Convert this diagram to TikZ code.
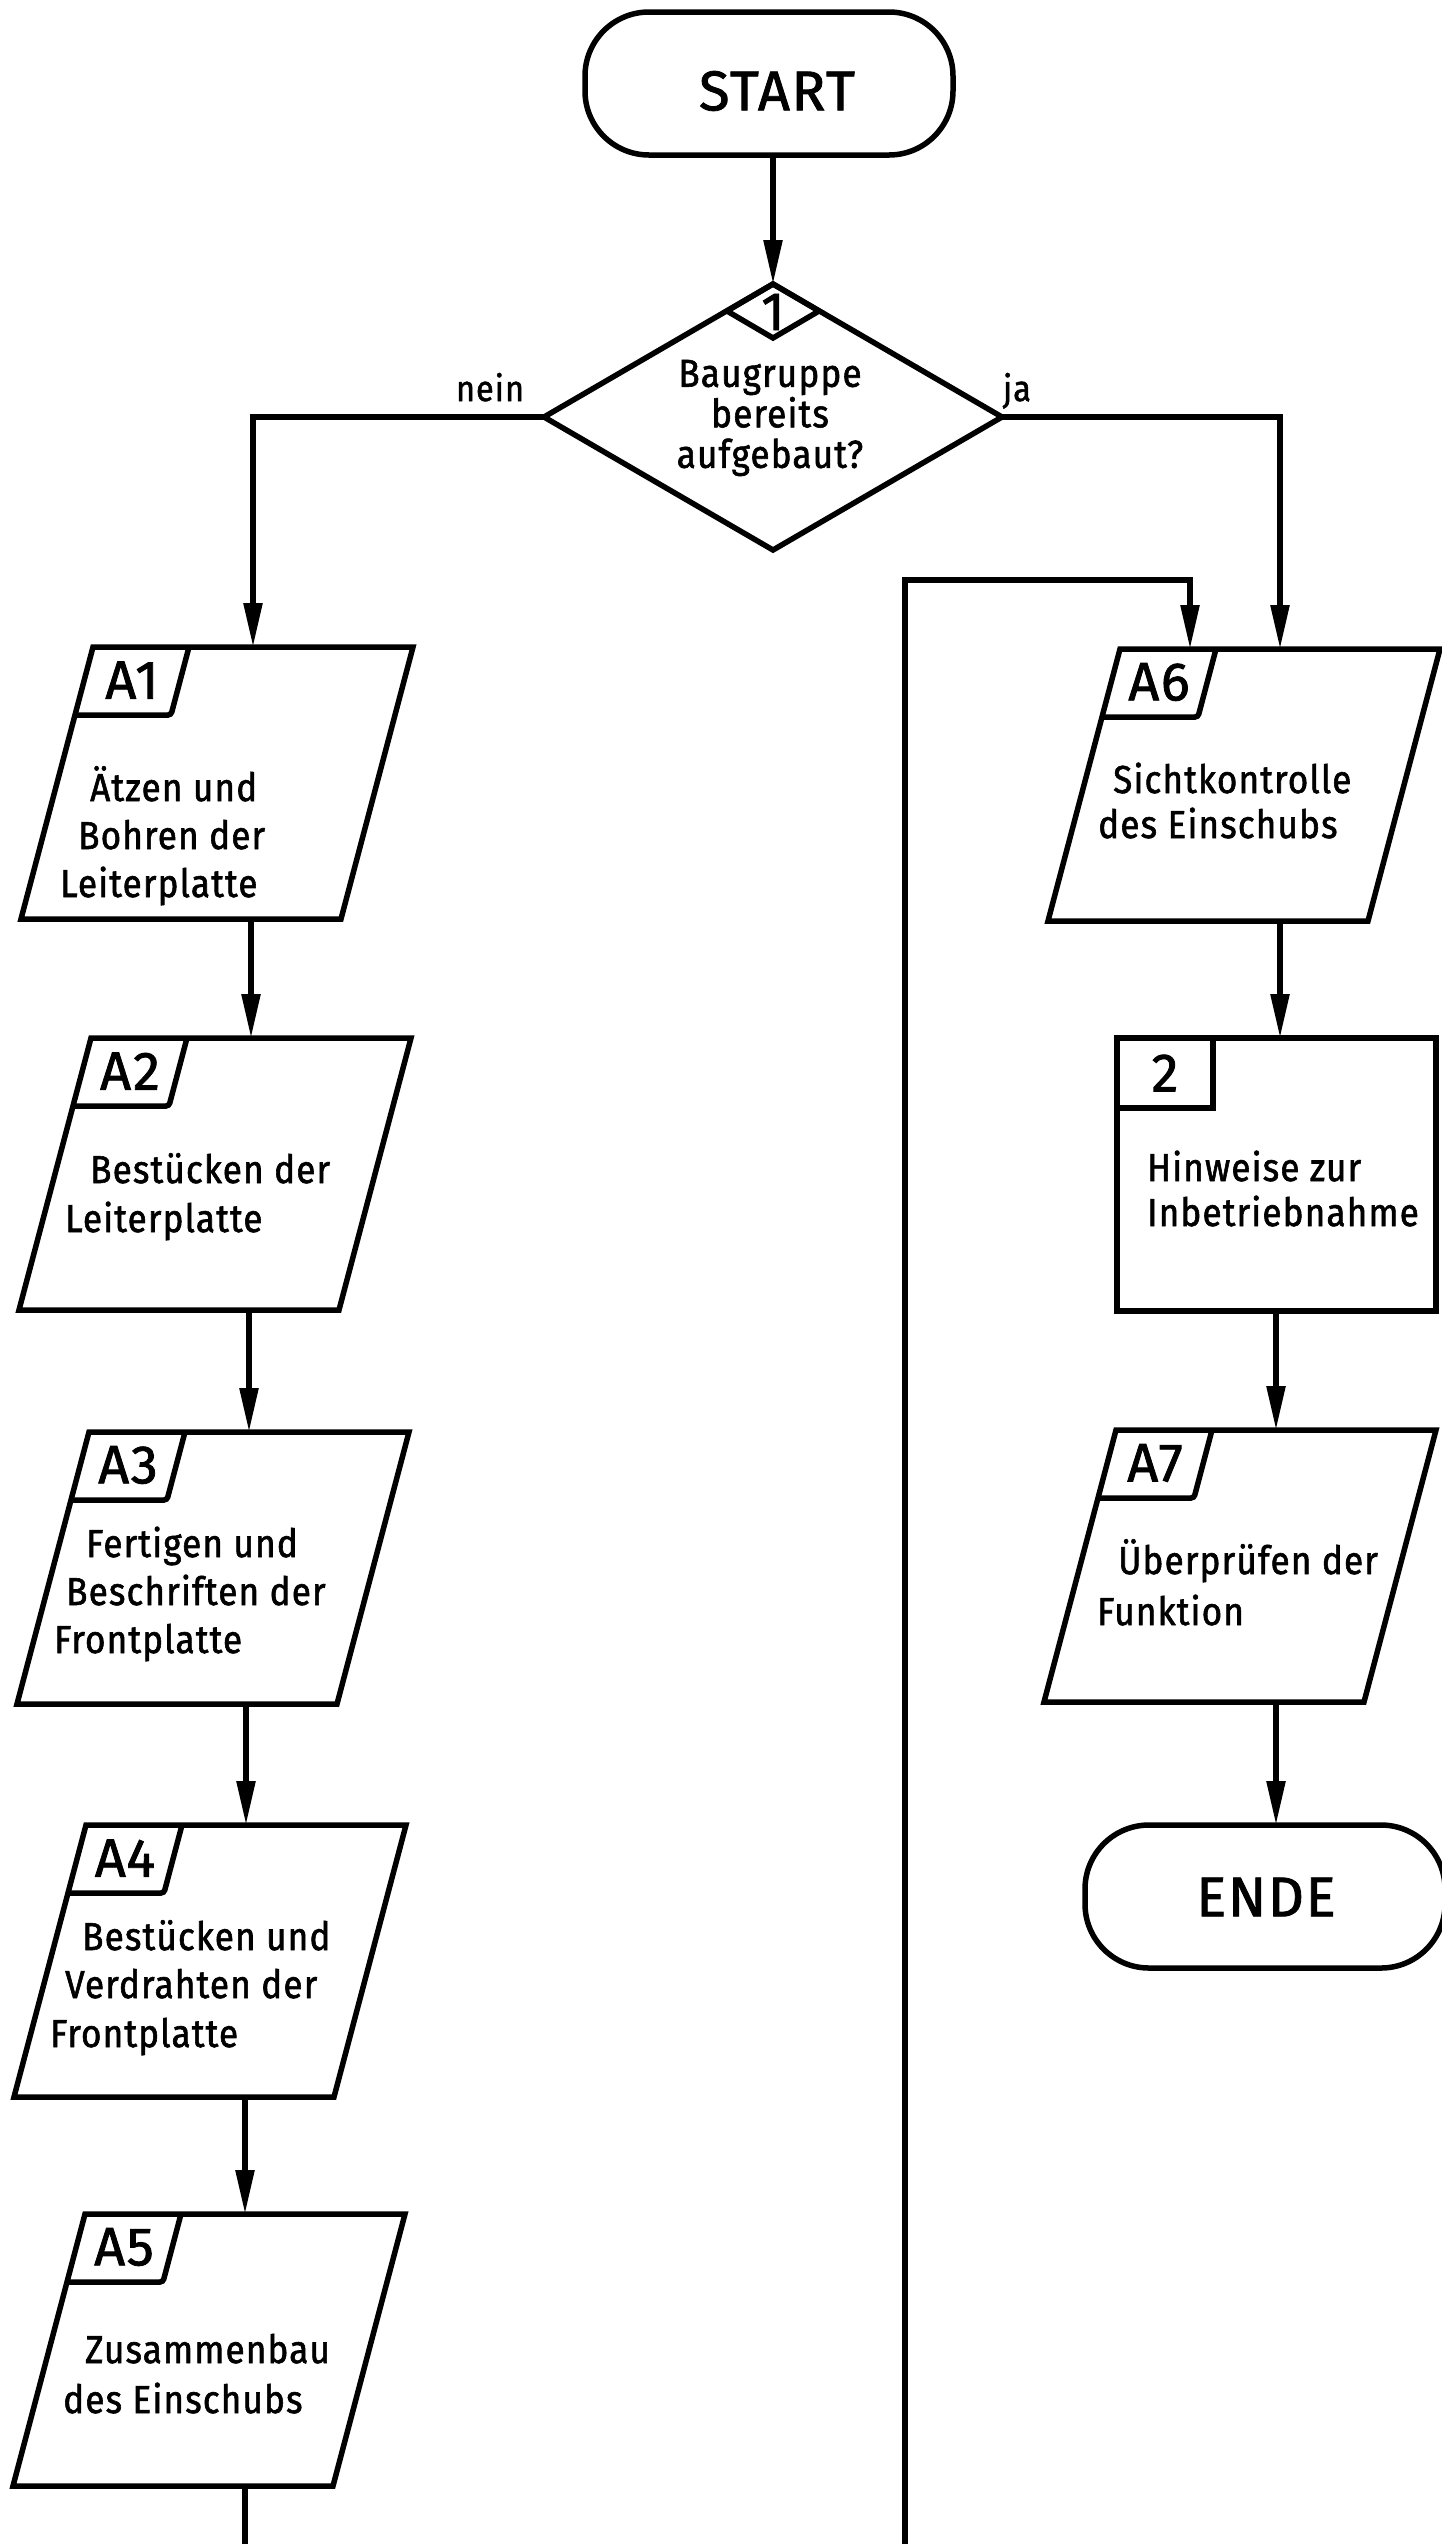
\documentclass[tikz,border=0pt]{standalone}
\usepackage{fontspec}
\setmainfont{Fira Sans}[LetterSpace=3,FakeBold=1.5,FakeStretch=0.9]
\newfontfamily\labfam{Fira Sans}[LetterSpace=3,FakeBold=1.5]
\usetikzlibrary{arrows.meta}
\newcommand\fBody{\fontsize{39}{47}\selectfont}
\newcommand\fDia{\fontsize{39}{40.5}\selectfont}
\newcommand\fBig{\labfam\fontsize{56}{60}\selectfont}
\newcommand\fLab{\labfam\fontsize{54}{58}\selectfont}
\newcommand\fSmall{\fontsize{36}{40}\selectfont}
\newcommand\paraBox[2]{%
  \draw[ln] (#1.north west) -- (#1.north east) -- ([xshift=-72pt]#1.south east) -- ([xshift=-72pt]#1.south west) -- cycle;
  \draw[ln, rounded corners=3pt] ([xshift=96pt]#1.north west) -- ([xshift=78pt,yshift=-68pt]#1.north west) -- ([xshift=-18pt,yshift=-68pt]#1.north west);
  \node[labtext] (#1-lab) at ([xshift=39pt,yshift=-33pt]#1.north west) {#2};
}
\begin{document}
\begin{tikzpicture}[x=1pt,y=-1pt,
  ln/.style={line width=5.5pt},
  arr/.style={line width=5.5pt,-{Triangle[length=44pt,width=18pt]}},
  pbox/.style={minimum width=320pt,minimum height=272pt,inner sep=0pt,outer sep=0pt},
  anchorbox/.style={inner sep=0pt,outer sep=0pt},
  term/.style={draw,line width=5.5pt,rounded corners=64pt,inner sep=0pt,outer sep=0pt},
  labtext/.style={inner sep=0pt,font=\fLab},
  tl/.style={inner sep=0pt,anchor=base west,font=\fBody}]
\useasboundingbox (0,0) rectangle (1442,2544);

% start
\node[term,minimum width=368pt,minimum height=143pt] (START) at (769,83.5) {};
\node[inner sep=0pt,font=\fBig] (STARTt) at (777,91) {START};

% decision
\node[anchorbox,minimum width=458pt,minimum height=266pt] (D) at (773,417) {};
\draw[ln] (D.north) -- (D.east) -- (D.south) -- (D.west) -- cycle;
\draw[ln] (D.north) -- ++(46,27) -- ++(-46,27) -- ++(-46,-27) -- cycle;
\node[labtext] (D-lab) at ([yshift=-28pt]D.north) {1};
\node[inner sep=0pt,align=center,font=\fDia] (Dt) at (770,418) {Baugruppe\\bereits\\aufgebaut?};
\node[inner sep=0pt,anchor=base,font=\fSmall] (nein) at (490,401) {nein};
\node[inner sep=0pt,anchor=base,font=\fSmall] (ja) at (1017,401) {ja};

% left column
\node[pbox] (A1) at (253,783) {};
\paraBox{A1}{A1}
\node[tl] (t1a) at (90,801) {Ätzen und};
\node[tl] (t1b) at (78,849) {Bohren der};
\node[tl] (t1c) at (60,897) {Leiterplatte};
\node[pbox] (A2) at (251,1174) {};
\paraBox{A2}{A2}
\node[tl] (t2a) at (90,1183) {Bestücken der};
\node[tl] (t2b) at (65,1232) {Leiterplatte};
\node[pbox] (A3) at (249,1568) {};
\paraBox{A3}{A3}
\node[tl] (t3a) at (86,1557) {Fertigen und};
\node[tl] (t3b) at (66,1605) {Beschriften der};
\node[tl] (t3c) at (54,1653) {Frontplatte};
\node[pbox] (A4) at (246,1961) {};
\paraBox{A4}{A4}
\node[tl] (t4a) at (82,1950) {Bestücken und};
\node[tl] (t4b) at (65,1998) {Verdrahten der};
\node[tl] (t4c) at (50,2047) {Frontplatte};
\node[pbox] (A5) at (245,2350) {};
\paraBox{A5}{A5}
\node[tl] (t5a) at (85,2363) {Zusammenbau};
\node[tl] (t5b) at (63,2413) {des Einschubs};

% right column
\node[pbox] (A6) at (1280,785) {};
\paraBox{A6}{A6}
\node[tl] (t6a) at (1113,793) {Sichtkontrolle};
\node[tl] (t6b) at (1098,838) {des Einschubs};
\node[draw,line width=5.5pt,minimum width=319pt,minimum height=273pt,inner sep=0pt,outer sep=0pt] (B2) at (1276.5,1174.5) {};
\draw[ln] ([xshift=96pt]B2.north west) |- ([yshift=-70pt]B2.north west);
\node[labtext] (B2-lab) at ([xshift=48pt,yshift=-35pt]B2.north west) {2};
\node[tl] (tB2a) at (1147,1181) {Hinweise zur};
\node[tl] (tB2b) at (1147,1226) {Inbetriebnahme};
\node[pbox] (A7) at (1276,1566) {};
\paraBox{A7}{A7}
\node[tl] (t7a) at (1118,1574) {Überprüfen der};
\node[tl] (t7b) at (1097,1625) {Funktion};
\node[term,minimum width=360pt,minimum height=143pt] (ENDE) at (1265,1896.5) {};
\node[inner sep=0pt,font=\fBig] (ENDEt) at (1266,1897) {ENDE};

% connectors
\draw[arr] (D.north |- START.south) -- (D.north);
\draw[arr] (D.west) -| (A1.north);
\draw[arr] (D.east) -| (A6.north);
\draw[arr] (A2.north |- A1.south) -- (A2.north);
\draw[arr] (A3.north |- A2.south) -- (A3.north);
\draw[arr] (A4.north |- A3.south) -- (A4.north);
\draw[arr] (A5.north |- A4.south) -- (A5.north);
\coordinate (bot) at (0,2544);
\draw[ln] (A5.south) -- (A5.south |- bot);
\draw[arr] (A6.south) -- (A6.south |- B2.north);
\draw[arr] (A7.north |- B2.south) -- (A7.north);
\draw[arr] (A7.south) -- (A7.south |- ENDE.north);
\coordinate (fb) at (905,2544);
\draw[arr] (fb) |- ([xshift=70pt,yshift=69pt]A6.north west) -- ([xshift=70pt]A6.north west);
\end{tikzpicture}
\end{document}
